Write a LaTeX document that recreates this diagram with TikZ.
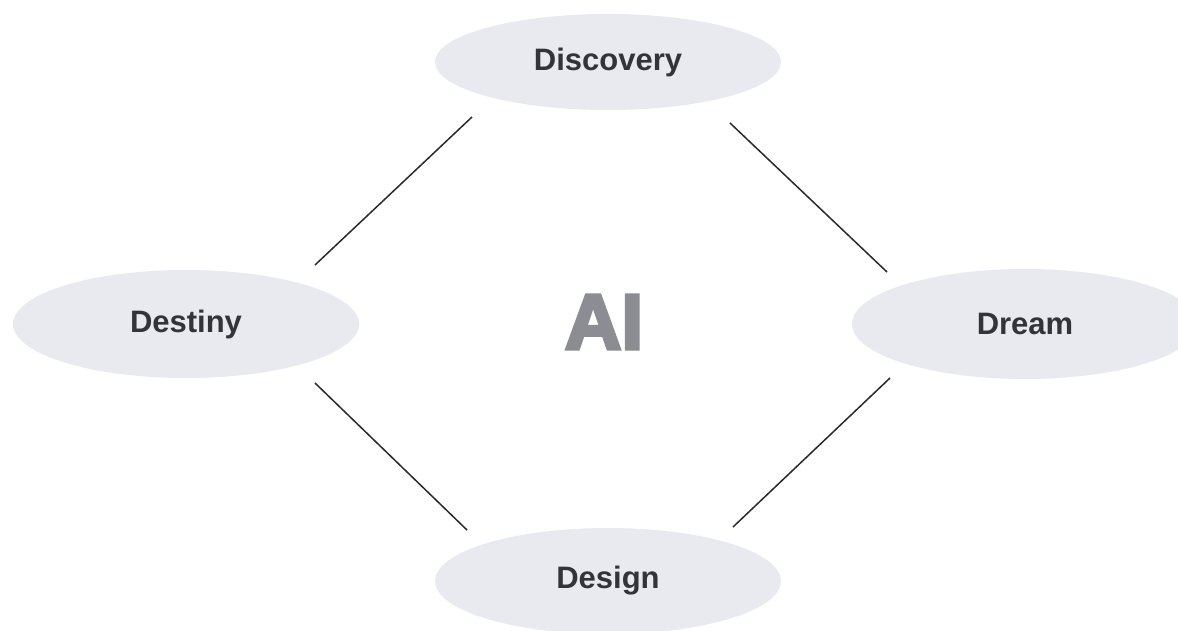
\documentclass[tikz,border=0pt]{standalone}
\usepackage{fontspec}
\setmainfont{Liberation Sans}
\usetikzlibrary{shapes.geometric}
\definecolor{ellfill}{HTML}{E9EAF0}
\definecolor{txt}{HTML}{333338}
\definecolor{aigray}{HTML}{8C8D93}
\definecolor{linec}{HTML}{2A2A2A}
\tikzset{
  phase/.style={ellipse, fill=ellfill, draw=none, minimum width=346pt, minimum height=100pt, inner sep=0pt,
    font=\fontsize{31}{31}\selectfont\bfseries, text=txt},
  link/.style={draw=linec, line width=1.5pt}
}
\begin{document}
\begin{tikzpicture}[x=1pt,y=-1pt]
\useasboundingbox (0,0) rectangle (1178,631);
\fill[white] (0,0) rectangle (1178,631);
\node[phase, minimum height=96pt] (disc) at (608,62) {Discovery};
\node[phase, minimum height=108pt] (dest) at (186,324) {Destiny};
\node[phase, minimum height=110pt] (dream) at (1025,324) {Dream};
\node[phase, minimum height=106pt] (design) at (608,581) {Design};
\node[font=\fontsize{78}{78}\selectfont\bfseries, text=aigray, inner sep=0pt] (ai) at (604,322)
  {\special{pdf:code 2 Tr 3.5 w}AI\special{pdf:code 0 Tr 1 w}};
\coordinate (a1) at (472,117); \coordinate (a2) at (315,265);
\coordinate (b1) at (730,123); \coordinate (b2) at (887,272);
\coordinate (c1) at (315,383); \coordinate (c2) at (467,530);
\coordinate (d1) at (890,378); \coordinate (d2) at (733,527);
\draw[link] (a1) -- (a2);
\draw[link] (b1) -- (b2);
\draw[link] (c1) -- (c2);
\draw[link] (d1) -- (d2);
\end{tikzpicture}
\end{document}
